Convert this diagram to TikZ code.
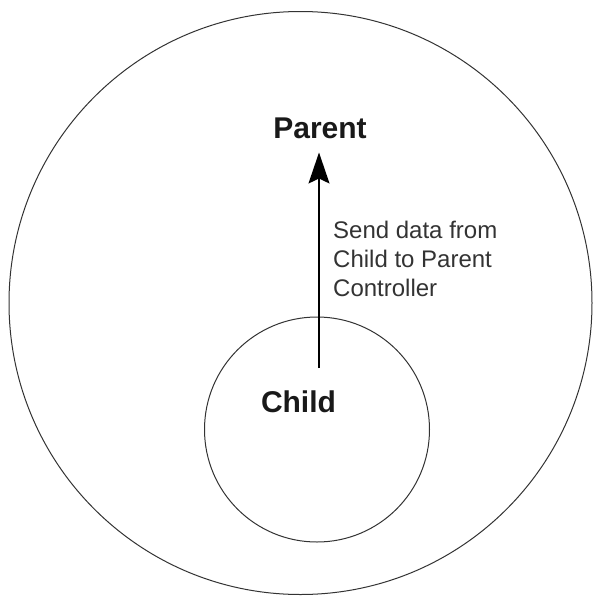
\documentclass[tikz,border=0pt]{standalone}
\usepackage{fontspec}
\setmainfont{Liberation Sans}
\usetikzlibrary{arrows.meta}
\tikzset{
  ring/.style={draw=black!80, line width=1pt, circle, inner sep=0pt},
  title/.style={font=\fontsize{30}{36}\selectfont\bfseries, text=black!90, inner sep=0pt},
  note/.style={font=\fontsize{24}{29}\selectfont, text=black!80, align=left, inner sep=0pt},
  flow/.style={-{Stealth[length=31pt,width=21pt,inset=5pt]}, line width=1.5pt, shorten >=14pt},
}
\begin{document}
\begin{tikzpicture}[x=1pt,y=-1pt]
        \useasboundingbox (0,0) rectangle (595,598);
        \draw (300.5,303) node[ring, minimum size=583pt](outer){};
        \draw (317,429.5) node[ring, minimum size=225pt](inner){};
        \draw (320,138) node[title, anchor=base](parent){Parent};
        \draw (298.5,412) node[title, anchor=base](child){Child};
        \draw (333,220.5) node[note, anchor=north west](msg){Send data from\\Child to Parent\\Controller};
        \coordinate (src) at (319,368);
        \draw[flow] (src) -- (src |- parent.south);
    \end{tikzpicture}
\end{document}
